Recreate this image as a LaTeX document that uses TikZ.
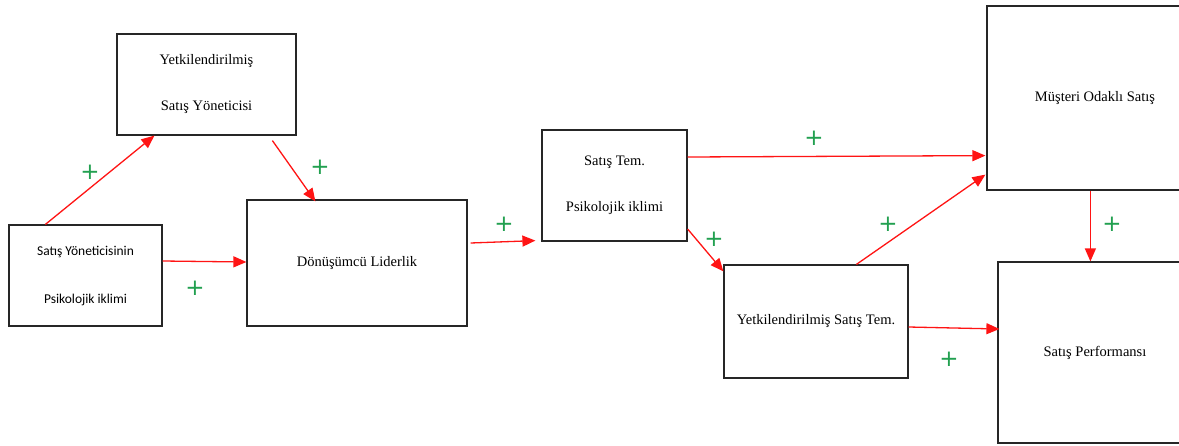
\documentclass[tikz,border=0pt]{standalone}
\usepackage{fontspec}
\setmainfont{Liberation Serif}
\newfontfamily\calfont{Carlito}
\newfontfamily\plusfont{DejaVu Sans}
\usepackage{xcolor}
\usetikzlibrary{arrows.meta}
\definecolor{plusgreen}{RGB}{34,160,80}
\definecolor{arrowred}{RGB}{255,20,20}

\begin{document}
\begin{tikzpicture}[
    x=1pt, y=-1pt,
    box/.style={rectangle, draw=black!85, line width=1.2pt, inner sep=0pt, align=center,
        text=black, font=\rmfamily\fontsize{14.5}{17}\selectfont},
    link/.style={draw=arrowred, line width=1.3pt, -{Triangle[length=13pt,width=11pt]}},
    plus/.style={text=plusgreen, inner sep=0pt, font=\plusfont\fontsize{23}{23}\selectfont}
]
    \useasboundingbox (0,0) rectangle (1179,445);
    \clip (0,0) rectangle (1179,445);
    \fill[white] (0,0) rectangle (1179,445);

    \node[box, minimum width=153pt, minimum height=101pt, font=\calfont\fontsize{13.5}{16}\selectfont] (syp) at (85.5,275.5) {Satış Yöneticisinin\\[32pt]Psikolojik iklimi};
    \node[box, minimum width=179pt, minimum height=101pt] (ysy) at (206.5,84.5) {Yetkilendirilmiş\\[29pt]Satış Yöneticisi};
    \node[box, minimum width=220pt, minimum height=126pt] (dl) at (357,263) {Dönüşümcü Liderlik};
    \node[box, minimum width=145pt, minimum height=111pt] (stp) at (614.5,185.5) {Satış Tem.\\[29pt]Psikolojik iklimi};
    \node[box, minimum width=184pt, minimum height=113pt] (yst) at (816,321.5) {Yetkilendirilmiş Satış Tem.};
    \node[box, minimum width=216pt, minimum height=184pt] (mos) at (1095,98) {Müşteri Odaklı Satış};
    \node[box, minimum width=194pt, minimum height=181pt] (sp) at (1095,352.5) {Satış Performansı};

    \draw[link] ([xshift=37pt]syp.north west) -- ([xshift=38pt]ysy.south west);
    \draw[link] ([xshift=156pt,yshift=-5pt]ysy.south west) -- ([xshift=69pt,yshift=-2pt]dl.north west);
    \draw[link] ([yshift=14.5pt]syp.east) -- ([yshift=1pt]dl.west);
    \draw[link] ([xshift=3pt,yshift=20pt]dl.east) -- ([xshift=-6pt,yshift=1pt]stp.south west);
    \draw[link] ([yshift=28.5pt]stp.east) -- ([xshift=-1pt,yshift=35pt]mos.south west);
    \draw[link] ([yshift=-43.5pt]stp.east) -- ([yshift=-7pt]yst.north west);
    \draw[link] ([xshift=133pt]yst.north west) -- ([xshift=-1pt,yshift=16pt]mos.south west);
    \draw[link] ([yshift=-5.5pt]yst.east) -- ([xshift=2pt,yshift=23.5pt]sp.west);
    \draw[link] ([xshift=104pt]mos.south west) -- ([xshift=93pt]sp.north west);

    \node[plus] (p1) at (90,172) {+};
    \node[plus] (p2) at (195,288) {+};
    \node[plus] (p3) at (320,167) {+};
    \node[plus] (p4) at (504,224) {+};
    \node[plus] (p5) at (714,239) {+};
    \node[plus] (p6) at (814,138) {+};
    \node[plus] (p7) at (888,224) {+};
    \node[plus] (p8) at (1112,224) {+};
    \node[plus] (p9) at (949,359) {+};
\end{tikzpicture}
\end{document}
